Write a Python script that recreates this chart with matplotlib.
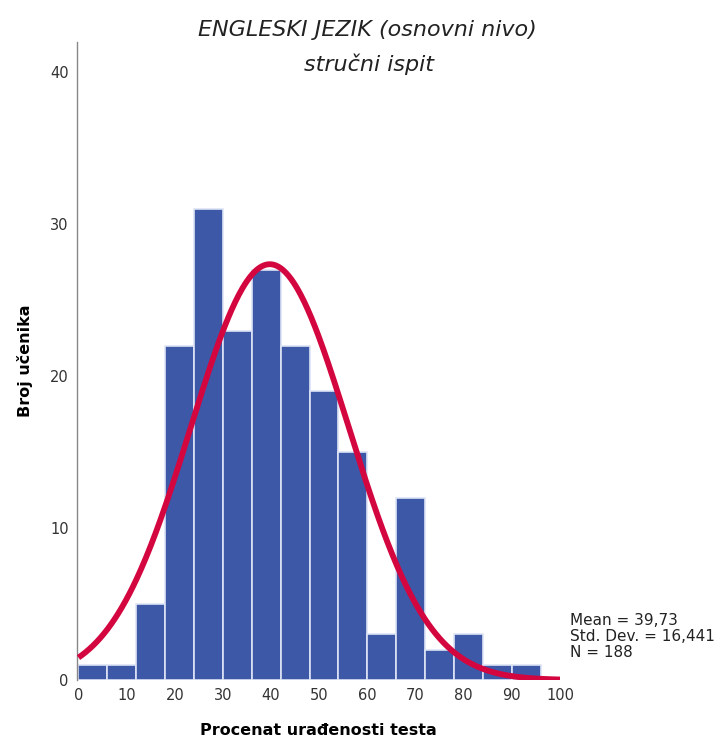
import numpy as np
import matplotlib
matplotlib.use('Agg')
import matplotlib.pyplot as plt

# Histogram data (bins of width 6)
bin_edges = [0, 6, 12, 18, 24, 30, 36, 42, 48, 54, 60, 66, 72, 78, 84, 90, 96]
counts = [1, 1, 5, 22, 31, 23, 27, 22, 19, 15, 3, 12, 2, 3, 1, 1]
mean_val = 39.73
std_val = 16.441
n_val = 188
x_ticks = [0, 10, 20, 30, 40, 50, 60, 70, 80, 90, 100]
y_ticks = [0, 10, 20, 30, 40]

fig = plt.figure(figsize=(7.28, 7.43), dpi=100)
ax = fig.add_axes([0.1058, 0.0848, 0.6634, 0.8587])

edges = np.array(bin_edges, dtype=float)
widths = np.diff(edges)
ax.bar(edges[:-1], counts, width=widths, align='edge',
       color='#3E58A8', edgecolor='#DDE4F5', linewidth=1.2, zorder=2)

# Fitted normal curve
xs = np.linspace(0, 100, 400)
scale = n_val * widths[0]
ys = scale / (std_val * np.sqrt(2 * np.pi)) * np.exp(-0.5 * ((xs - mean_val) / std_val) ** 2)
ax.plot(xs, ys, color='#D4063F', linewidth=4.2, solid_capstyle='butt', zorder=3)

ax.set_ylim(0, 42)
ax.set_xticks(x_ticks)
ax.set_yticks(y_ticks)
ax.tick_params(length=0, labelsize=10.5, labelcolor='#333333', pad=6)
for s in ['top', 'right', 'bottom']:
    ax.spines[s].set_visible(False)
ax.spines['left'].set_color('#888888')
ax.spines['left'].set_linewidth(1.0)
ax.set_xlim(-0.3, 100)

ax.set_xlabel('Procenat urađenosti testa', fontsize=11.5, fontweight='bold', labelpad=14)
ax.set_ylabel('Broj učenika', fontsize=11.5, fontweight='bold', labelpad=12)

fig.text(0.505, 0.959, 'ENGLESKI JEZIK (osnovni nivo)', ha='center', va='center',
         fontsize=16, style='italic', color='#222222')
fig.text(0.507, 0.913, 'stručni ispit', ha='center', va='center',
         fontsize=16, style='italic', color='#222222')

fig.text(0.783, 0.143, 'Mean = 39,73\nStd. Dev. = 16,441\nN = 188', ha='left', va='center',
         fontsize=11, linespacing=1.1, color='#222222')

fig.savefig('out.png', dpi=100)
